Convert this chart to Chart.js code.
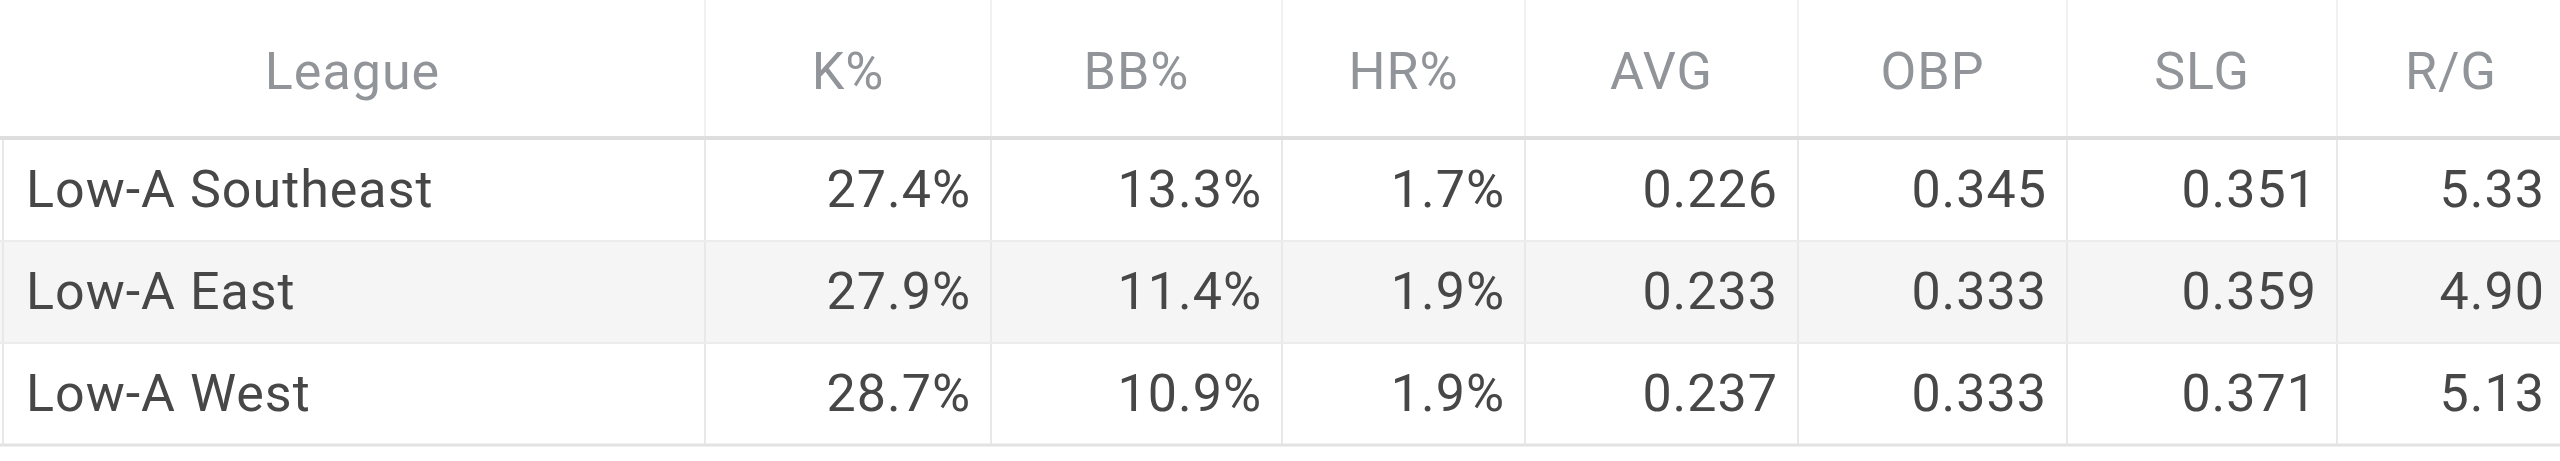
<!DOCTYPE html>
<html>
<head>
<meta charset="utf-8">
<script src="https://cdn.jsdelivr.net/npm/chart.js@4.4.1/dist/chart.umd.min.js"></script>
<style>
  html, body { margin: 0; padding: 0; background: #fff; overflow: hidden; }
  #wrap { width: 2560px; height: 461px; }
</style>
</head>
<body>
<div id="wrap"><canvas id="leagueTable" width="2560" height="461"></canvas></div>
<script>
/* Table data. */
const columns = ["League", "K%", "BB%", "HR%", "AVG", "OBP", "SLG", "R/G"];
const leagues = ["Low-A Southeast", "Low-A East", "Low-A West"];
const kPct = [27.4, 27.9, 28.7];
const bbPct = [13.3, 11.4, 10.9];
const hrPct = [1.7, 1.9, 1.9];
const avg = [0.226, 0.233, 0.237];
const obp = [0.345, 0.333, 0.333];
const slg = [0.351, 0.359, 0.371];
const runsPerGame = [5.33, 4.90, 5.13];

/* Layout: column edges in scale units (1 unit = 1px here), row fills, fonts. */
const colEdges = [0, 705, 991, 1282, 1525, 1798, 2067, 2337, 2565];
const rowFill = ["#ffffff", "#f5f5f5", "#ffffff"];
const FONT = "Roboto, 'Noto Sans', sans-serif";
const FONT_SIZE = 52;

const pct = (v) => v.toFixed(1) + "%";
const dec = (n) => (v) => v.toFixed(n);

/* One entry per stat column after League: values and how to print them. */
const statCols = [
  { values: kPct, fmt: pct },
  { values: bbPct, fmt: pct },
  { values: hrPct, fmt: pct },
  { values: avg, fmt: dec(3) },
  { values: obp, fmt: dec(3) },
  { values: slg, fmt: dec(3) },
  { values: runsPerGame, fmt: dec(2) },
];

const tablePlugin = {
  id: "tableCells",
  afterDatasetsDraw(chart) {
    const { ctx, chartArea } = chart;
    const x = chart.scales.x;
    const y = chart.scales.y;
    const half = (y.getPixelForValue(1) - y.getPixelForValue(0)) / 2;
    const top = chartArea.top;
    const bottom = y.getPixelForValue(leagues.length - 1) + half;
    const ex = colEdges.map((e) => x.getPixelForValue(e));

    ctx.save();

    /* Vertical lines in the header (faint) and in the body. */
    ctx.lineWidth = 2;
    ctx.strokeStyle = "#f1f1f1";
    for (let i = 1; i < ex.length; i++) {
      ctx.beginPath();
      ctx.moveTo(ex[i], 0);
      ctx.lineTo(ex[i], top);
      ctx.stroke();
    }
    ctx.strokeStyle = "#e8e8e8";
    for (let i = 0; i < ex.length; i++) {
      const px = i === 0 ? ex[i] + 3 : ex[i];
      ctx.beginPath();
      ctx.moveTo(px, top);
      ctx.lineTo(px, bottom);
      ctx.stroke();
    }

    /* Row separators. */
    ctx.strokeStyle = "#ececec";
    for (let r = 1; r < leagues.length; r++) {
      const py = y.getPixelForValue(r) - half;
      ctx.beginPath();
      ctx.moveTo(ex[0], py);
      ctx.lineTo(ex[ex.length - 1], py);
      ctx.stroke();
    }
    ctx.lineWidth = 3;
    ctx.strokeStyle = "#e2e2e2";
    ctx.beginPath();
    ctx.moveTo(ex[0], bottom);
    ctx.lineTo(ex[ex.length - 1], bottom);
    ctx.stroke();
    ctx.lineWidth = 4;
    ctx.strokeStyle = "#dedede";
    ctx.beginPath();
    ctx.moveTo(ex[0], top - 1);
    ctx.lineTo(ex[ex.length - 1], top - 1);
    ctx.stroke();

    /* Header texts, centred in their columns. */
    ctx.letterSpacing = "1px";
    ctx.font = "400 " + FONT_SIZE + "px " + FONT;
    ctx.fillStyle = "#919498";
    ctx.textAlign = "center";
    ctx.textBaseline = "alphabetic";
    const headBase = top / 2 + FONT_SIZE * 0.375;
    columns.forEach((c, i) => {
      ctx.fillText(c, (ex[i] + ex[i + 1]) / 2, headBase);
    });

    /* Body cells. */
    ctx.fillStyle = "#474747";
    leagues.forEach((name, r) => {
      const base = y.getPixelForValue(r) + FONT_SIZE * 0.335;
      ctx.textAlign = "left";
      ctx.fillText(name, ex[0] + 26, base);
      ctx.textAlign = "right";
      statCols.forEach((col, c) => {
        ctx.fillText(col.fmt(col.values[r]), ex[c + 2] - 20, base);
      });
    });

    ctx.restore();
  },
};

new Chart(document.getElementById("leagueTable"), {
  type: "bar",
  data: {
    labels: leagues,
    datasets: [
      {
        /* Row backgrounds: one floating bar across the whole table per league. */
        data: leagues.map(() => [colEdges[0], colEdges[colEdges.length - 1]]),
        backgroundColor: rowFill,
        borderWidth: 0,
        barPercentage: 1,
        categoryPercentage: 1,
      },
    ],
  },
  options: {
    indexAxis: "y",
    responsive: false,
    devicePixelRatio: 1,
    animation: false,
    events: [],
    layout: { padding: { top: 139, bottom: 16, left: 0, right: 0 } },
    plugins: { legend: { display: false }, tooltip: { enabled: false } },
    scales: {
      x: { type: "linear", min: 0, max: 2560, display: false },
      y: { type: "category", offset: true, display: false },
    },
  },
  plugins: [tablePlugin],
});
</script>
</body>
</html>
